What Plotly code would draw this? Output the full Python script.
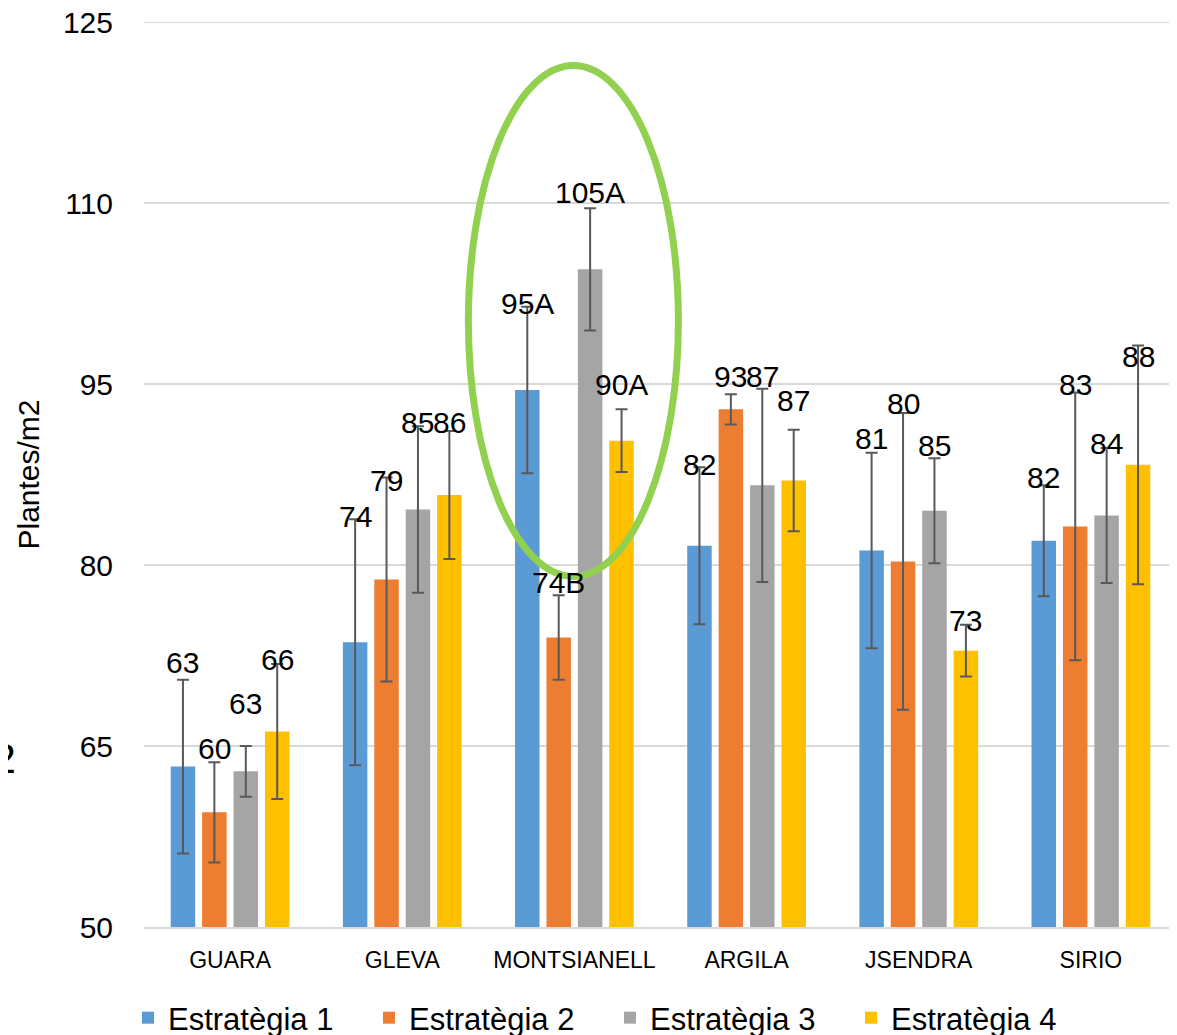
import plotly.graph_objects as go

categories = ["GUARA", "GLEVA", "MONTSIANELL", "ARGILA", "JSENDRA", "SIRIO"]
series_names = ["Estratègia 1", "Estratègia 2", "Estratègia 3", "Estratègia 4"]

est1 = [63.3, 73.6, 94.5, 81.6, 81.2, 82.0]
est2 = [59.5, 78.8, 74.0, 92.9, 80.3, 83.2]
est3 = [62.9, 84.6, 104.5, 86.6, 84.5, 84.1]
est4 = [66.2, 85.8, 90.3, 87.0, 72.9, 88.3]

err1 = [7.2, 10.2, 6.9, 6.5, 8.1, 4.6]
err2 = [4.15, 8.45, 3.5, 1.25, 12.3, 11.1]
err3 = [2.1, 6.9, 5.06, 8.0, 4.35, 5.6]
err4 = [5.6, 5.3, 2.6, 4.2, 2.15, 9.9]

lab1 = ["63", "74", "95A", "82", "81", "82"]
lab2 = ["60", "79", "74B", "93", "80", "83"]
lab3 = ["63", "85", "105A", "87", "85", "84"]
lab4 = ["66", "86", "90A", "87", "73", "88"]

# label vertical positions (in y-axis units), as placed in the original
laby1 = [71.96, 83.98, 101.71, 88.29, 90.52, 87.29]
laby2 = [64.83, 87.04, 78.51, 95.65, 93.42, 94.92]
laby3 = [68.52, 91.77, 110.91, 95.65, 89.94, 90.11]
laby4 = [72.13, 91.77, 94.92, 93.67, 75.44, 97.24]

y_ticks = [50, 65, 80, 95, 110, 125]

colors = ["#5b9bd5", "#ed7d31", "#a5a5a5", "#ffc000"]
values = [est1, est2, est3, est4]
errors = [err1, err2, err3, err4]
labels = [lab1, lab2, lab3, lab4]
labys = [laby1, laby2, laby3, laby4]

FONT = "Liberation Sans, Arial, Helvetica, sans-serif"
BARGAP = 0.27
GRID = "#d9d9d9"

fig = go.Figure()
for name, vals, errs, col in zip(series_names, values, errors, colors):
    fig.add_trace(go.Bar(
        name=name, x=categories, y=vals, marker=dict(color=col, line=dict(width=0)),
        error_y=dict(type="data", array=errs, visible=True, color="#595959", thickness=2, width=6),
    ))

slot = (1 - BARGAP) / len(series_names)
annotations = []
for j, (labs, ly) in enumerate(zip(labels, labys)):
    for i, (t, yy) in enumerate(zip(labs, ly)):
        annotations.append(dict(
            x=i + (j - 1.5) * slot, y=yy, xref="x", yref="y", text=t, showarrow=False,
            xanchor="center", yanchor="middle", font=dict(family=FONT, size=30, color="#000000"),
        ))

# clipped stray character at the left edge of the original image
annotations.append(dict(x=-0.149, y=0.187, xref="paper", yref="paper", text="2", showarrow=False,
                        xanchor="left", yanchor="middle", font=dict(family=FONT, size=43, color="#000000")))

shapes = [
    # top gridline (plotly omits the gridline lying on the plot edge)
    dict(type="line", xref="paper", yref="y", x0=0, x1=1, y0=y_ticks[-1], y1=y_ticks[-1],
         line=dict(color=GRID, width=2), layer="below"),
    dict(type="circle", xref="x", yref="y", x0=1.384, x1=2.604, y0=79.05, y1=121.39,
         line=dict(color="#92d050", width=7), fillcolor="rgba(0,0,0,0)", layer="above"),
]

fig.update_layout(
    width=1177, height=1035,
    margin=dict(l=136, r=8, t=14, b=116, autoexpand=False),
    paper_bgcolor="white", plot_bgcolor="white",
    barmode="group", bargap=BARGAP, bargroupgap=0.22,
    font=dict(family=FONT, color="#000000"),
    annotations=annotations,
    shapes=shapes,
    legend=dict(orientation="h", x=-0.0155, xanchor="left", y=-0.1006, yanchor="middle",
                font=dict(family=FONT, size=31, color="#000000"),
                entrywidth=196, entrywidthmode="pixels", traceorder="normal",
                itemclick=False, itemdoubleclick=False, bgcolor="rgba(0,0,0,0)"),
    showlegend=True,
)
fig.update_xaxes(range=[-0.5, 5.5], showgrid=False, showline=True, linecolor=GRID, linewidth=2,
                 automargin=False,
                 ticks="", tickfont=dict(family=FONT, size=23, color="#000000"), ticklabelstandoff=11)
fig.update_yaxes(range=[50, 125], tickvals=y_ticks, showgrid=True, gridcolor=GRID, gridwidth=2,
                 zeroline=False, showline=False, ticks="", automargin=False, ticklabeloverflow="allow",
                 tickfont=dict(family=FONT, size=30, color="#000000"), ticklabelstandoff=30,
                 title=dict(text="Plantes/m2", font=dict(family=FONT, size=30, color="#000000"), standoff=14))

fig.write_html("out.html")
